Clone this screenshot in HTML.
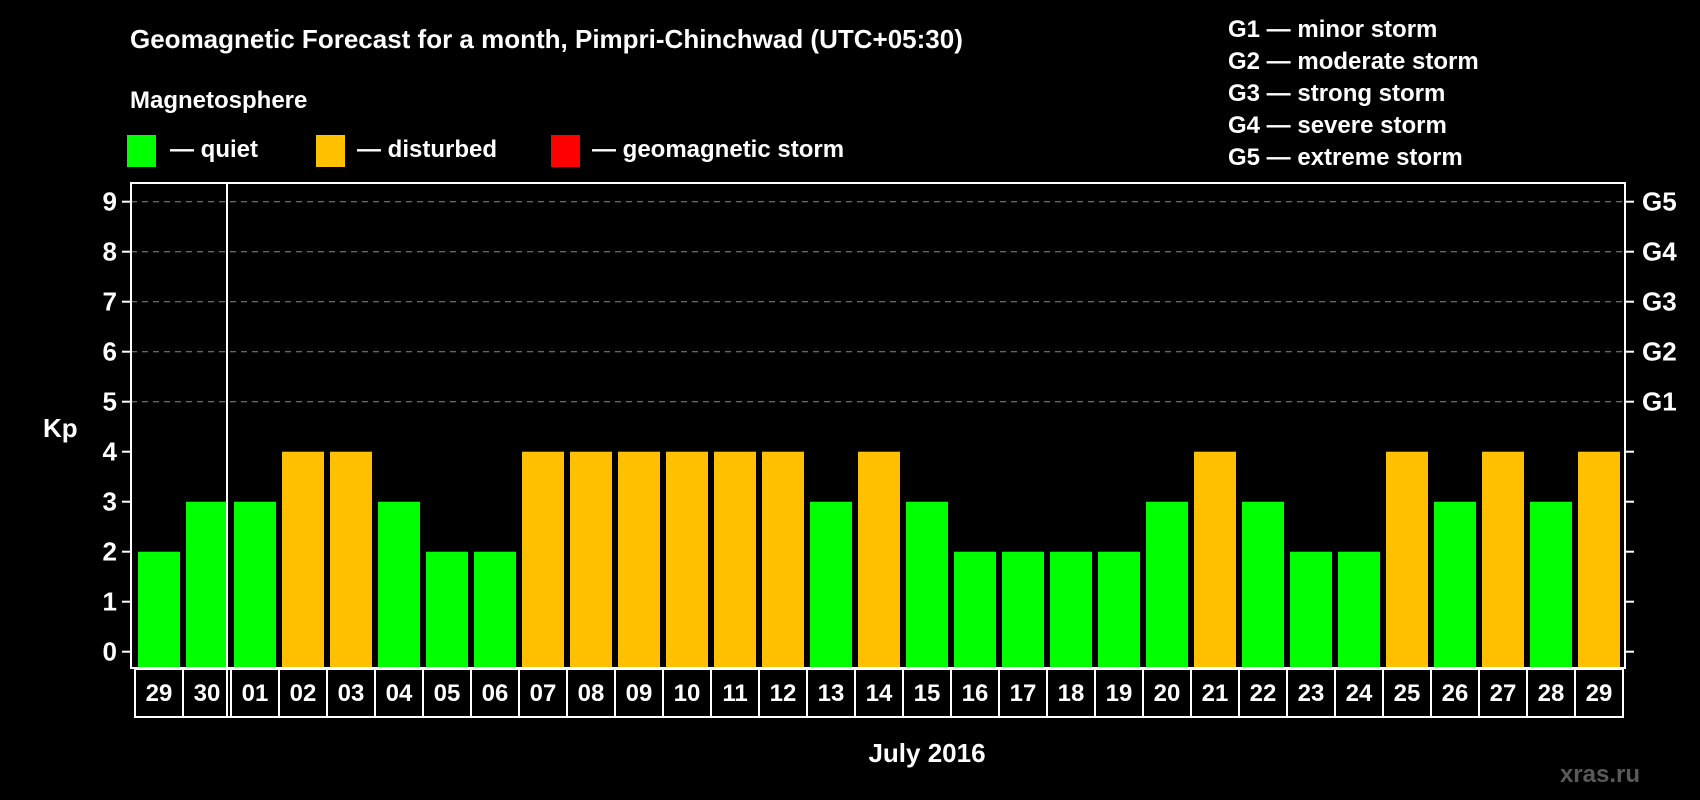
<!DOCTYPE html>
<html><head><meta charset="utf-8"><style>
html,body{margin:0;padding:0;background:#000;}
svg{display:block;font-family:"Liberation Sans",Arial,sans-serif;font-weight:bold;}
</style></head><body>
<svg id="c" width="1700" height="800" viewBox="0 0 1700 800">
<rect x="0" y="0" width="1700" height="800" fill="#000"/>
<text x="130" y="48" fill="#fff" font-size="26">Geomagnetic Forecast for a month, Pimpri-Chinchwad (UTC+05:30)</text>
<text x="130" y="108" fill="#fff" font-size="24">Magnetosphere</text>
<rect x="127" y="135" width="29" height="32" fill="#00ff00"/>
<text x="170" y="157" fill="#fff" font-size="24">— quiet</text>
<rect x="316" y="135" width="29" height="32" fill="#ffc000"/>
<text x="357" y="157" fill="#fff" font-size="24">— disturbed</text>
<rect x="551" y="135" width="29" height="32" fill="#ff0000"/>
<text x="592" y="157" fill="#fff" font-size="24">— geomagnetic storm</text>
<g font-size="24" fill="#fff">
<text x="1228" y="37">G1 — minor storm</text>
<text x="1228" y="69">G2 — moderate storm</text>
<text x="1228" y="101">G3 — strong storm</text>
<text x="1228" y="133">G4 — severe storm</text>
<text x="1228" y="165">G5 — extreme storm</text>
</g>
<text x="43" y="437" fill="#fff" font-size="26">Kp</text>
<text x="927" y="762" fill="#fff" font-size="26" text-anchor="middle">July 2016</text>
<text x="1640" y="782" fill="#5a5a5a" font-size="24" text-anchor="end">xras.ru</text>
<g id="plot"></g>
</svg>
<script>
const days = ["29","30","01","02","03","04","05","06","07","08","09","10","11","12","13","14","15","16","17","18","19","20","21","22","23","24","25","26","27","28","29"];
const kpValues = [2,3,3,4,4,3,2,2,4,4,4,4,4,4,3,4,3,2,2,2,2,3,4,3,2,2,4,3,4,3,4];
const yTicks = [0,1,2,3,4,5,6,7,8,9];
const gLabels = ["G1","G2","G3","G4","G5"];
const NS="http://www.w3.org/2000/svg";
const g=document.getElementById('plot');
const L=131,R=1625,T=183,B=668,Y0=651.7,UNIT=50,X0=138,PITCH=48,BW=42;
function y(v){return Y0-UNIT*v;}
function x(i){return X0+PITCH*i;}
function mk(tag,attrs){const e=document.createElementNS(NS,tag);for(const k in attrs)e.setAttribute(k,attrs[k]);g.appendChild(e);return e;}
// grid
yTicks.forEach(v=>{
  if(v>=5){const e=mk('line',{x1:L,x2:R,y1:y(v),y2:y(v),stroke:'#8a8a8a','stroke-width':1,'stroke-dasharray':'6 5'});
  
  }
  const t1=mk('line',{x1:L-9,x2:L,y1:y(v),y2:y(v),stroke:'#fff','stroke-width':2});
  
  
  const t2=mk('line',{x1:R,x2:R+9,y1:y(v),y2:y(v),stroke:'#fff','stroke-width':2});
  
  
  const tl=mk('text',{x:117,y:y(v)+9,fill:'#fff','font-size':26,'text-anchor':'end'});
  tl.textContent=v;
  
  
});
gLabels.forEach((s,i)=>{
  const t=mk('text',{x:1642,y:y(5+i)+9,fill:'#fff','font-size':26});
  t.textContent=s;
  
  
});
// bars
kpValues.forEach((v,i)=>{
  const b=mk('rect',{x:x(i),y:y(v),width:BW,height:B-y(v),fill:v>=5?'#ff0000':(v>=4?'#ffc000':'#00ff00')});
  
  
});
// frame
const f=mk('rect',{x:L,y:T,width:R-L,height:B-T,fill:'none',stroke:'#fff','stroke-width':2});


const sep=mk('line',{x1:x(2)-7,x2:x(2)-7,y1:T,y2:717,stroke:'#fff','stroke-width':2});


// date cells
days.forEach((d,i)=>{
  const cx=x(i)-3;
  const c=mk('rect',{x:cx,y:669,width:PITCH,height:48,fill:'none',stroke:'#fff','stroke-width':2});
  
  
  const t=mk('text',{x:cx+PITCH/2,y:701,fill:'#fff','font-size':24,'text-anchor':'middle'});
  t.textContent=d;
  
  
});
</script>
</body></html>
